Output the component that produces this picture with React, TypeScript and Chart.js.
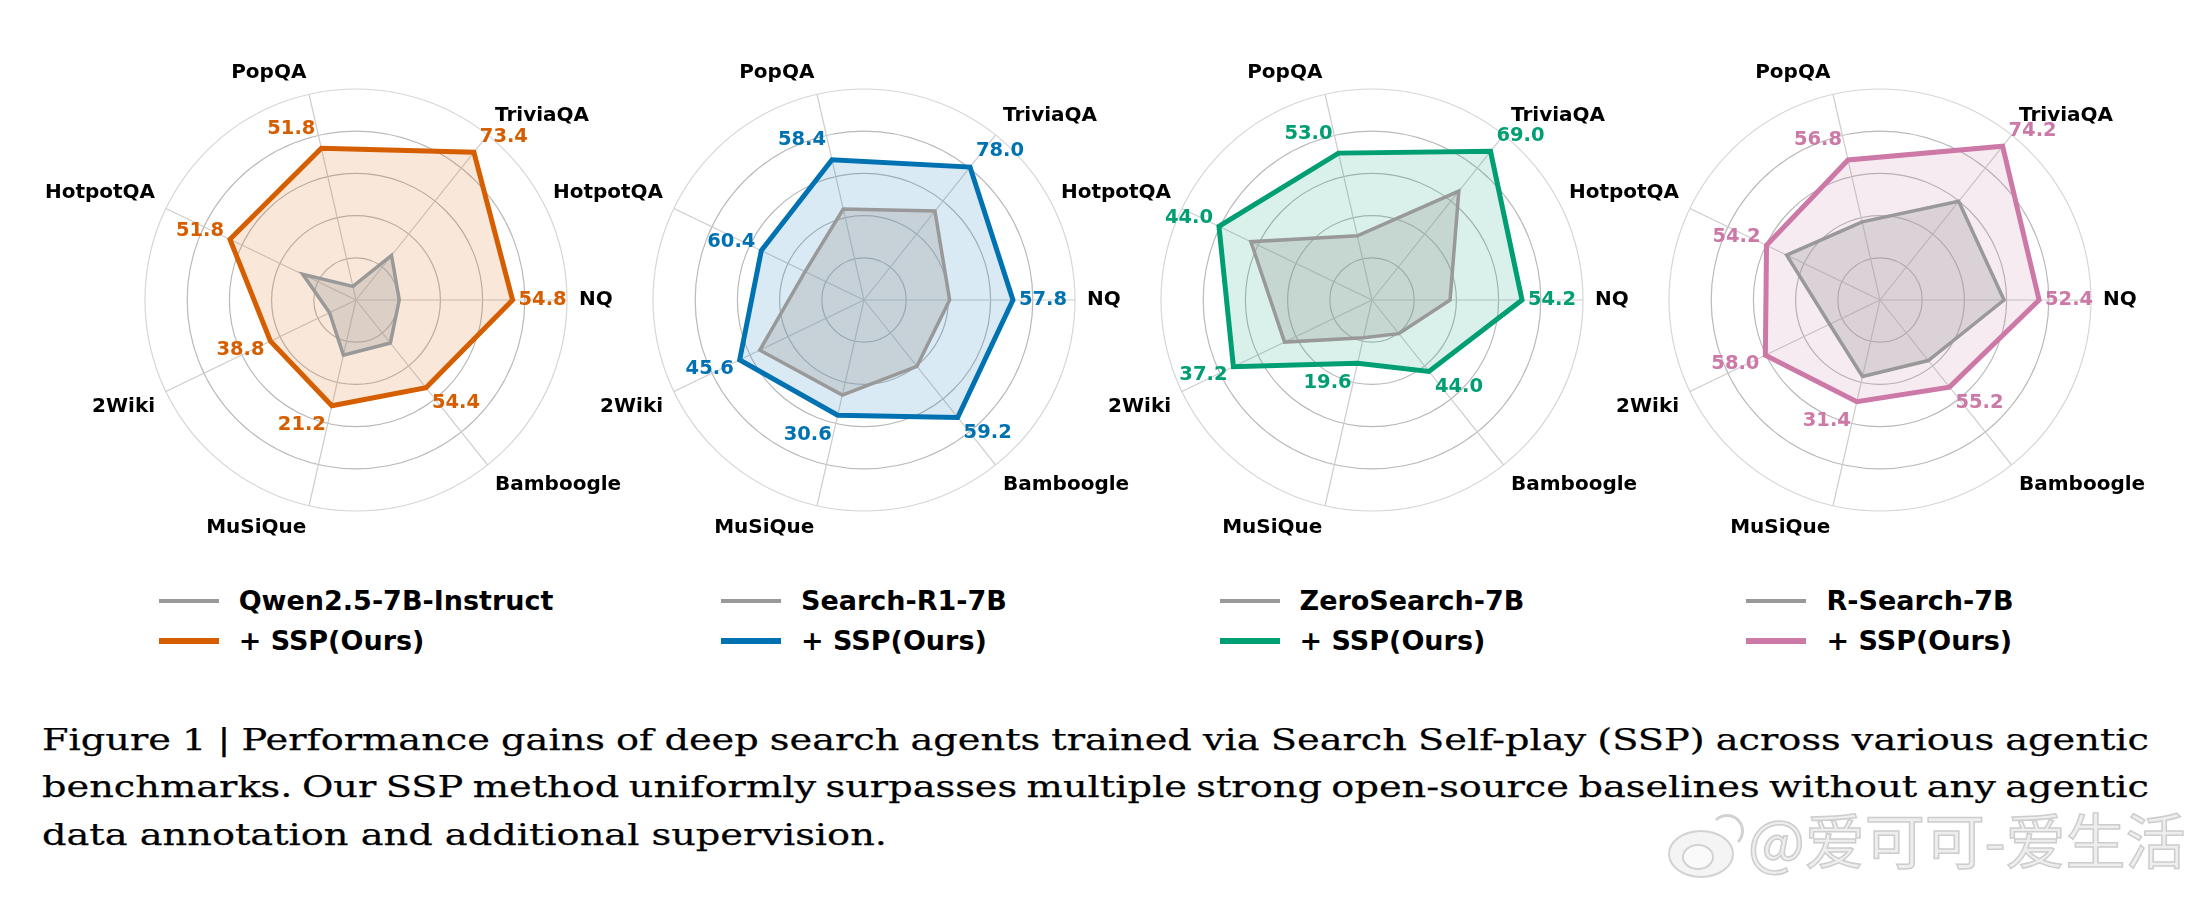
import React, { useEffect, useRef } from "react";
import { Chart, registerables } from "chart.js";

Chart.register(...registerables);

// Axes in Chart.js (clockwise) order, starting at the right (east)
const categories = ["NQ", "Bamboogle", "MuSiQue", "2Wiki", "HotpotQA", "PopQA", "TriviaQA"];

const baselineNames = ["Qwen2.5-7B-Instruct", "Search-R1-7B", "ZeroSearch-7B", "R-Search-7B"];
const sspName = "+ SSP(Ours)";
const sspColors = ["#D55E00", "#0072B2", "#009E73", "#CC79A7"];
const baselineColor = "#999999";

// Normalized radial position (0-100), plus SSP score labels
const qwenBaseline = [20.5, 26.1, 26.8, 13.9, 28.0, 6.6, 27.0];
const qwenSsp = [74.2, 53.2, 51.4, 45.0, 66.3, 73.8, 89.6];
const qwenSspScores = [54.8, 54.4, 21.2, 38.8, 51.8, 51.8, 73.4];

const searchR1Baseline = [40.6, 40.2, 46.2, 54.8, 31.0, 44.2, 53.9];
const searchR1Ssp = [70.6, 71.2, 56.0, 65.4, 54.0, 68.2, 80.6];
const searchR1SspScores = [57.8, 59.2, 30.6, 45.6, 60.4, 58.4, 78.0];

const zeroSearchBaseline = [37.0, 20.4, 18.3, 46.0, 63.7, 31.2, 66.0];
const zeroSearchSsp = [71.1, 43.3, 30.7, 72.9, 80.5, 71.4, 90.1];
const zeroSearchSspScores = [54.2, 44.0, 19.6, 37.2, 44.0, 53.0, 69.0];

const rSearchBaseline = [58.8, 36.7, 37.2, 26.5, 49.1, 38.0, 59.8];
const rSearchSsp = [75.4, 52.8, 49.4, 60.3, 59.7, 68.1, 93.2];
const rSearchSspScores = [52.4, 55.2, 31.4, 58.0, 54.2, 56.8, 74.2];

const captionLines = [
  "Figure 1 | Performance gains of deep search agents trained via Search Self-play (SSP) across various agentic",
  "benchmarks. Our SSP method uniformly surpasses multiple strong open-source baselines without any agentic",
  "data annotation and additional supervision.",
];
const watermarkText = "@爱可可-爱生活";

const panels = [
  { name: baselineNames[0], color: sspColors[0], base: qwenBaseline, ssp: qwenSsp, scores: qwenSspScores },
  { name: baselineNames[1], color: sspColors[1], base: searchR1Baseline, ssp: searchR1Ssp, scores: searchR1SspScores },
  { name: baselineNames[2], color: sspColors[2], base: zeroSearchBaseline, ssp: zeroSearchSsp, scores: zeroSearchSspScores },
  { name: baselineNames[3], color: sspColors[3], base: rSearchBaseline, ssp: rSearchSsp, scores: rSearchSspScores },
];

const centersX = [356, 864, 1372, 1880];
const CANVAS_W = 700;
const CANVAS_H = 560;
const RADIUS = 211;

function rgba(hex: string, a: number) {
  const n = parseInt(hex.slice(1), 16);
  return `rgba(${(n >> 16) & 255},${(n >> 8) & 255},${n & 255},${a})`;
}

function RadarPanel({ cx, panel }: { cx: number; panel: any }) {
  const ref = useRef<HTMLCanvasElement>(null);
  useEffect(() => {
    const canvas = ref.current!;
    const valuePlugin = {
      id: "sspValues",
      afterDatasetsDraw(chart: any) {
        const scale = chart.scales.r;
        const meta = chart.getDatasetMeta(1);
        const ctx = chart.ctx;
        ctx.save();
        ctx.font = "bold 19.5px 'DejaVu Sans'";
        ctx.fillStyle = panel.color;
        ctx.textAlign = "center";
        ctx.textBaseline = "middle";
        meta.data.forEach((pt: any, i: number) => {
          const a = scale.getIndexAngle(i) - Math.PI / 2;
          const c = Math.cos(a);
          const up = -Math.sin(a);
          const x = pt.x + (Math.abs(c) < 0.05 ? 0 : Math.sign(c) * 30);
          const y = pt.y - up * 20;
          ctx.fillText(panel.scores[i].toFixed(1), x, y);
        });
        ctx.restore();
      },
    };
    const labelPlugin = {
      id: "axisLabels",
      afterDraw(chart: any) {
        const scale = chart.scales.r;
        const ctx = chart.ctx;
        ctx.save();
        ctx.font = "bold 20px 'DejaVu Sans'";
        ctx.fillStyle = "#000000";
        (chart.data.labels as string[]).forEach((label, i) => {
          const pos = scale.getPointPosition(i, scale.drawingArea + 12);
          const deg = Math.round((scale.getIndexAngle(i) * 180) / Math.PI) % 360;
          ctx.textAlign = deg === 0 || deg === 180 ? "center" : deg < 180 ? "left" : "right";
          ctx.textBaseline = deg === 90 || deg === 270 ? "middle" : deg > 270 || deg < 90 ? "bottom" : "top";
          ctx.fillText(label, pos.x, pos.y);
        });
        ctx.restore();
      },
    };
    const padX = (CANVAS_W - 2 * RADIUS) / 2;
    const padY = (CANVAS_H - 2 * RADIUS) / 2;
    const chart = new Chart(canvas, {
      type: "radar",
      data: {
        labels: categories,
        datasets: [
          {
            label: panel.name,
            data: panel.base,
            borderColor: baselineColor,
            backgroundColor: rgba(baselineColor, 0.3),
            borderWidth: 3.5,
            pointRadius: 0,
            fill: true,
            order: 0,
          },
          {
            label: sspName,
            data: panel.ssp,
            borderColor: panel.color,
            backgroundColor: rgba(panel.color, 0.15),
            borderWidth: 5,
            pointRadius: 0,
            fill: true,
            order: 1,
          },
        ],
      },
      options: {
        animation: false,
        responsive: false,
        layout: { padding: { left: padX, right: padX, top: padY, bottom: padY } },
        plugins: { legend: { display: false }, tooltip: { enabled: false }, title: { display: false } },
        scales: {
          r: {
            min: 0,
            max: 100,
            startAngle: 90,
            ticks: { display: false, stepSize: 20 },
            pointLabels: { display: false },
            grid: {
              circular: true,
              color: (ctx: any) => (ctx.index === 5 ? "#d6d6d6" : "#b9b9b9"),
              lineWidth: 1.2,
            },
            angleLines: { display: true, color: "#cccccc", lineWidth: 1.2 },
          },
        },
      } as any,
      plugins: [valuePlugin, labelPlugin],
    });
    return () => chart.destroy();
  }, [panel]);
  return (
    <canvas
      ref={ref}
      width={CANVAS_W}
      height={CANVAS_H}
      style={{ position: "absolute", left: cx - CANVAS_W / 2, top: 300 - CANVAS_H / 2, width: CANVAS_W, height: CANVAS_H }}
    />
  );
}

function Legend({ cx, panel }: { cx: number; panel: any }) {
  const rows = [
    { text: panel.name, color: baselineColor, h: 4.5 },
    { text: sspName, color: panel.color, h: 6 },
  ];
  return (
    <div style={{ position: "absolute", left: cx - 254, top: 581, width: 508, display: "flex", justifyContent: "center" }}>
      <div>
        {rows.map((r, i) => (
          <div key={i} style={{ display: "flex", alignItems: "center", height: 40 }}>
            <div style={{ width: 60, height: r.h, background: r.color, marginRight: 20, flex: "none" }} />
            <span style={{ font: "bold 27px 'DejaVu Sans'", lineHeight: "40px", color: "#000", whiteSpace: "nowrap" }}>
              {r.text}
            </span>
          </div>
        ))}
      </div>
    </div>
  );
}

function Caption() {
  const font = "30px 'DejaVu Serif'";
  const ctx = document.createElement("canvas").getContext("2d")!;
  ctx.font = font;
  const w3 = ctx.measureText(captionLines[2]).width;
  const k = 845 / w3;
  const targets = [2107, 2107, 845];
  const tops = [725, 772, 820];
  return (
    <>
      {captionLines.map((t, i) => {
        const w = ctx.measureText(t).width;
        const spaces = (t.match(/ /g) || []).length;
        const ws = i < 2 ? (targets[i] / k - w) / spaces : 0;
        return (
          <div
            key={i}
            style={{
              position: "absolute",
              left: 42,
              top: tops[i],
              font,
              lineHeight: "30px",
              whiteSpace: "nowrap",
              wordSpacing: ws,
              color: "#000",
              WebkitTextStroke: "0.25px #000",
              transform: `scaleX(${k})`,
              transformOrigin: "0 0",
            }}
          >
            {t}
          </div>
        );
      })}
    </>
  );
}

function Watermark() {
  return (
    <>
      <div style={{ position: "absolute", left: 1668, top: 820, width: 70, height: 54 }}>
        <div
          style={{
            position: "absolute", left: 0, top: 10, width: 62, height: 44, borderRadius: "50%",
            border: "2px solid #d2d2d2", background: "#f4f4f4",
          }}
        />
        <div
          style={{
            position: "absolute", left: 14, top: 24, width: 28, height: 22, borderRadius: "50%",
            border: "2px solid #d2d2d2", background: "#fafafa",
          }}
        />
        <div
          style={{
            position: "absolute", left: 42, top: -6, width: 28, height: 28, borderRadius: "50%",
            borderTop: "3px solid #d2d2d2", borderRight: "3px solid #d2d2d2",
            borderLeft: "3px solid transparent", borderBottom: "3px solid transparent",
          }}
        />
      </div>
      <div
        style={{
          position: "absolute", left: 1748, top: 808, font: "60px 'Noto Sans CJK SC'", lineHeight: "60px",
          color: "#eeeeee", WebkitTextStroke: "1.5px #cdcdcd", whiteSpace: "nowrap",
        }}
      >
        {watermarkText}
      </div>
    </>
  );
}

export default function App() {
  return (
    <div
      style={{
        position: "absolute", left: 0, top: 0, width: 2190, height: 900, background: "#ffffff",
        overflow: "hidden", fontFamily: "'DejaVu Sans'",
      }}
    >
      {panels.map((p, k) => (
        <RadarPanel key={k} cx={centersX[k]} panel={p} />
      ))}
      {panels.map((p, k) => (
        <Legend key={"l" + k} cx={centersX[k]} panel={p} />
      ))}
      <Caption />
      <Watermark />
    </div>
  );
}
